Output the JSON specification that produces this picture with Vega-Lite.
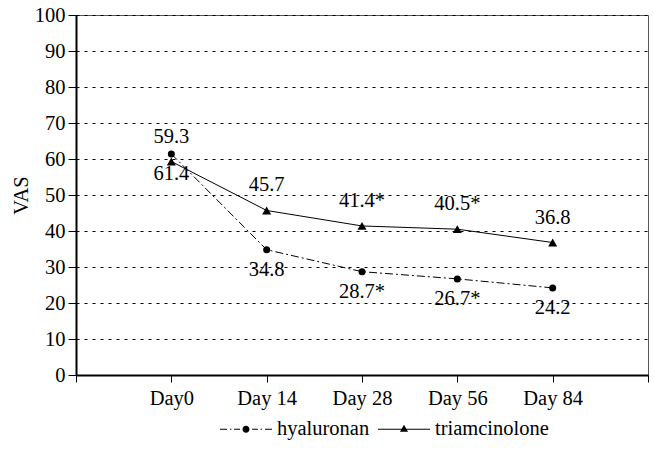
{
  "$schema": "https://vega.github.io/schema/vega-lite/v6.json",
  "autosize": {"type": "none"},
  "width": 572,
  "height": 360,
  "padding": {"left": 76, "top": 15, "right": 6, "bottom": 90},
  "background": "white",
  "config": {
    "font": "Liberation Serif",
    "view": {"stroke": "#555", "strokeWidth": 1},
    "axis": {
      "labelFont": "Liberation Serif",
      "labelFontSize": 20.5,
      "labelColor": "black",
      "titleFont": "Liberation Serif",
      "titleFontSize": 20.5,
      "titleFontWeight": "normal",
      "titleColor": "black",
      "domainColor": "black",
      "domainWidth": 2,
      "tickColor": "black",
      "tickWidth": 1
    },
    "legend": {"labelFont": "Liberation Serif", "labelFontSize": 20.5, "labelColor": "black"}
  },
  "data": {
    "values": [
      {"day": "Day0", "series": "hyaluronan", "vas": 61.4, "label": "61.4"},
      {"day": "Day 14", "series": "hyaluronan", "vas": 34.8, "label": "34.8"},
      {"day": "Day 28", "series": "hyaluronan", "vas": 28.7, "label": "28.7*"},
      {"day": "Day 56", "series": "hyaluronan", "vas": 26.7, "label": "26.7*"},
      {"day": "Day 84", "series": "hyaluronan", "vas": 24.2, "label": "24.2"},
      {"day": "Day0", "series": "triamcinolone", "vas": 59.3, "label": "59.3"},
      {"day": "Day 14", "series": "triamcinolone", "vas": 45.7, "label": "45.7"},
      {"day": "Day 28", "series": "triamcinolone", "vas": 41.4, "label": "41.4*"},
      {"day": "Day 56", "series": "triamcinolone", "vas": 40.5, "label": "40.5*"},
      {"day": "Day 84", "series": "triamcinolone", "vas": 36.8, "label": "36.8"}
    ]
  },
  "encoding": {
    "x": {
      "field": "day",
      "type": "ordinal",
      "scale": {"type": "point", "padding": 0, "domain": ["padL", "Day0", "Day 14", "Day 28", "Day 56", "Day 84", "padR"]},
      "axis": {
        "title": null,
        "labelAngle": 0,
        "tickSize": 7,
        "labelPadding": 6,
        "labelExpr": "datum.value === 'padL' || datum.value === 'padR' ? '' : datum.value",
        "grid": false
      }
    },
    "y": {
      "field": "vas",
      "type": "quantitative",
      "scale": {"domain": [0, 100], "nice": false},
      "axis": {
        "title": "VAS",
        "values": [0, 10, 20, 30, 40, 50, 60, 70, 80, 90, 100],
        "grid": true,
        "gridColor": "black",
        "gridDash": [3, 5],
        "gridWidth": 1,
        "gridOpacity": 1,
        "tickSize": 8,
        "labelPadding": 3,
        "titlePadding": 3
      }
    }
  },
  "layer": [
    {
      "transform": [{"filter": "datum.series === 'hyaluronan'"}],
      "mark": {"type": "line", "color": "black", "strokeWidth": 1, "strokeDash": [8, 3, 2, 3]}
    },
    {
      "transform": [{"filter": "datum.series === 'triamcinolone'"}],
      "mark": {"type": "line", "color": "black", "strokeWidth": 1}
    },
    {
      "transform": [{"filter": "datum.series === 'hyaluronan'"}],
      "mark": {"type": "point", "shape": "circle", "filled": true, "color": "black", "opacity": 1, "size": 49}
    },
    {
      "transform": [{"filter": "datum.series === 'triamcinolone'"}],
      "mark": {"type": "point", "shape": "triangle-up", "filled": true, "color": "black", "opacity": 1, "size": 81}
    },
    {
      "mark": {"type": "point", "filled": true, "color": "black", "strokeWidth": 0, "opacity": 0, "size": 10},
      "encoding": {
        "shape": {
          "field": "series",
          "type": "nominal",
          "scale": {
            "domain": ["hyaluronan", "triamcinolone"],
            "range": [
              "M-1,-0.021L-0.73,-0.021L-0.73,0.021L-1,0.021ZM-0.615,-0.021L-0.56,-0.021L-0.56,0.021L-0.615,0.021ZM-0.46,-0.021L-0.23,-0.021L-0.23,0.021L-0.46,0.021ZM0.23,-0.021L0.46,-0.021L0.46,0.021L0.23,0.021ZM0.56,-0.021L0.615,-0.021L0.615,0.021L0.56,0.021ZM0.73,-0.021L1,-0.021L1,0.021L0.73,0.021ZM-0.135,0A0.135,0.135 0 1,0 0.135,0A0.135,0.135 0 1,0 -0.135,0Z",
              "M-1,-0.021L1,-0.021L1,0.021L-1,0.021ZM0,-0.17L0.155,0.1L-0.155,0.1Z"
            ]
          },
          "legend": {
            "title": null,
            "orient": "none",
            "direction": "horizontal",
            "legendX": 144,
            "legendY": 388,
            "symbolSize": 2704,
            "labelOffset": 5,
            "columnPadding": 8,
            "symbolOpacity": 1,
            "symbolFillColor": "black",
            "symbolStrokeColor": "black",
            "symbolStrokeWidth": 0
          }
        }
      }
    },
    {
      "transform": [{"filter": "datum.series === 'triamcinolone'"}],
      "mark": {"type": "text", "dy": -25, "fontSize": 20.5, "font": "Liberation Serif", "color": "black"},
      "encoding": {"text": {"field": "label"}}
    },
    {
      "transform": [{"filter": "datum.series === 'hyaluronan'"}],
      "mark": {"type": "text", "dy": 20, "fontSize": 20.5, "font": "Liberation Serif", "color": "black"},
      "encoding": {"text": {"field": "label"}}
    }
  ]
}
